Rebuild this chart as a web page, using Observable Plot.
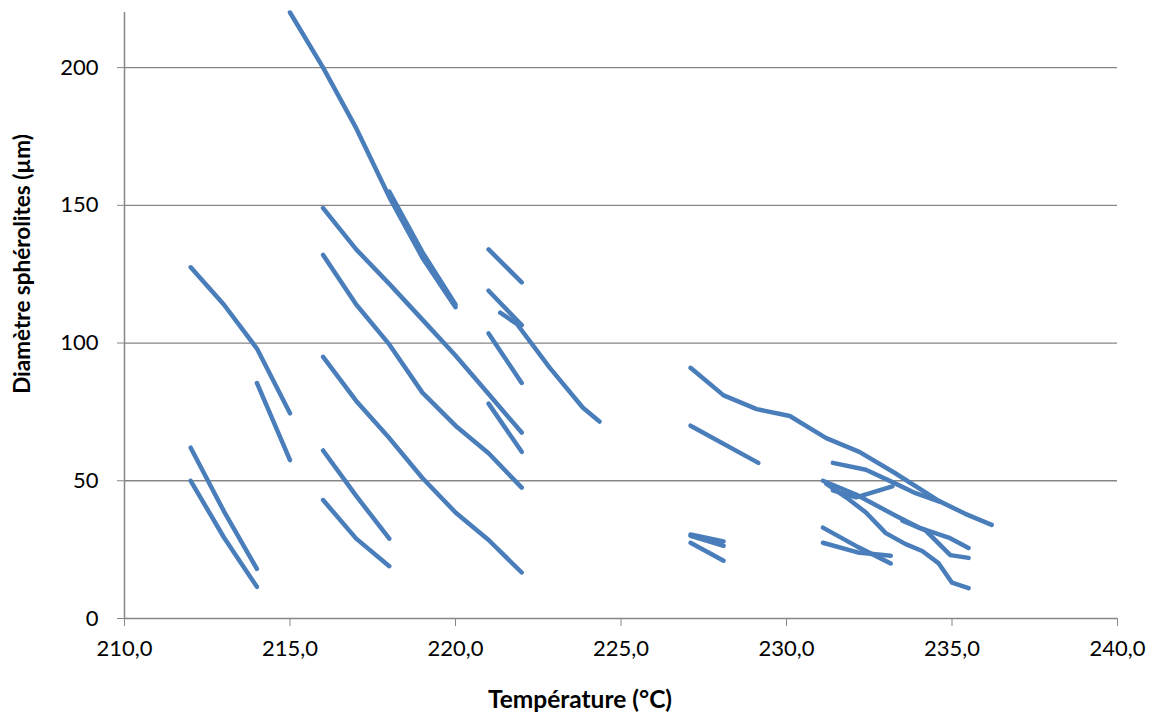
<!DOCTYPE html>
<html>
<head>
<meta charset="utf-8">
<script src="https://cdn.jsdelivr.net/npm/d3@7"></script>
<script src="https://cdn.jsdelivr.net/npm/@observablehq/plot@0.6"></script>
<style>
  html, body { margin: 0; padding: 0; background: #fff; }
  #chart { width: 1156px; height: 717px; }
  svg { font-family: Lato, "Open Sans", sans-serif; }
  svg g[aria-label="x-axis tick label"] text,
  svg g[aria-label="y-axis tick label"] text { font-size: 22px; fill: #000; }
  svg text.title { font-weight: bold; fill: #000; }
</style>
</head>
<body>
<div id="chart"></div>
<script>
// Each series: [température (°C), diamètre (µm)]
const s01 = [[215,220],[216,200],[217,178],[218,153],[219,131],[220,113]];
const s02 = [[218,155],[219,133],[220,114]];
const s03 = [[216,149],[217,134],[218,121.5],[219,108.5],[220,95.5],[221,81.5],[222,67.5]];
const s04 = [[216,132],[217,114],[218,99.5],[219,82],[220,70],[221,60],[222,47.5]];
const s05 = [[216,95],[217,79],[218,65.5],[219,51],[220,38.5],[221,28.5],[222,16.7]];
const s06 = [[216,61],[217,44.5],[218,29]];
const s07 = [[216,43],[217,29],[218,19]];
const s08 = [[212,127.5],[213,114],[214,98],[215,74.5]];
const s09 = [[214,85.5],[215,57.5]];
const s10 = [[212,62],[213,39],[214,18]];
const s11 = [[212,50],[213,29.5],[214,11.5]];
const s12 = [[221,134],[222,122]];
const s13 = [[221,119],[222,106.5]];
const s14 = [[221.35,111],[221.85,107],[222.85,91],[223.85,76.5],[224.35,71.5]];
const s15 = [[221,103.5],[222,85.5]];
const s16 = [[221,78],[222,60.5]];
const s17 = [[227.1,91],[228.1,81],[229.1,76],[230.1,73.5],[231.2,65.5],[232.2,60.5],[233.25,53],[234.6,42.7],[235.4,38],[236.2,34]];
const s18 = [[227.1,70],[229.15,56.5]];
const s19 = [[227.1,30.5],[228.1,28]];
const s20 = [[227.1,30],[228.1,26.4]];
const s21 = [[227.1,27.5],[228.1,21]];
const s22 = [[231.4,56.5],[232.4,54],[233.2,49.5],[233.9,45.5],[234.6,42.5]];
const s23 = [[231.1,50],[232.1,45],[233.3,37.3],[234.0,33],[234.9,29.4],[235.5,25.6]];
const s24 = [[233.5,35.5],[234.2,32],[234.95,23],[235.5,22]];
const s25 = [[231.4,46.5],[232.1,44],[233.2,48]];
const s26 = [[231.2,49],[231.8,44],[232.4,38.5],[233.0,31],[233.6,27],[234.1,24.5],[234.6,20],[235.0,13],[235.5,11]];
const s27 = [[231.1,33],[232.15,26],[233.15,20]];
const s28 = [[231.1,27.5],[232.15,24],[233.15,22.8]];

const xTicks = [210,215,220,225,230,235,240];
const yTicks = [0,50,100,150,200];
const gridTicks = [50,100,150,200];
const xTitle = "Température (°C)";
const yTitle = "Diamètre sphérolites (µm)";

const allSeries = [s01,s02,s03,s04,s05,s06,s07,s08,s09,s10,s11,s12,s13,s14,s15,s16,s17,s18,s19,s20,s21,s22,s23,s24,s25,s26,s27,s28];
const rows = allSeries.flatMap((s, i) => s.map(([t, d]) => ({t, d, s: i})));

const fmt = v => d3.format(".1f")(v).replace(".", ",");
const gray = "#868686";

const chart = Plot.plot({
  width: 1156,
  height: 717,
  marginLeft: 124,
  marginRight: 39,
  marginTop: 12,
  marginBottom: 99,
  x: {domain: [210, 240]},
  y: {domain: [0, 220]},
  style: {fontFamily: "Lato, 'Open Sans', sans-serif", color: "#000"},
  marks: [
    Plot.gridY(gridTicks, {stroke: gray, strokeOpacity: 1, strokeWidth: 1.3}),
    Plot.ruleX([210], {stroke: gray, strokeWidth: 1.5}),
    Plot.ruleY([0], {stroke: gray, strokeWidth: 1.5}),
    Plot.axisY(yTicks, {tickSize: 7, tickPadding: 19, stroke: gray, label: null, fill: "#000"}),
    Plot.axisX(xTicks, {tickSize: 8, tickPadding: 14, stroke: gray, label: null, tickFormat: fmt, fill: "#000"}),
    Plot.line(rows, {x: "t", y: "d", z: "s", stroke: "#4a7ebb", strokeWidth: 4.5, strokeLinecap: "round", strokeLinejoin: "round", curve: "linear"})
  ]
});

const svg = d3.select(chart);
svg.append("text")
  .attr("class", "title")
  .attr("x", 580).attr("y", 708)
  .attr("text-anchor", "middle")
  .style("font-size", "24.5px")
  .text(xTitle);
svg.append("text")
  .attr("class", "title")
  .attr("transform", "translate(30,264) rotate(-90)")
  .attr("text-anchor", "middle")
  .style("font-size", "22.5px")
  .text(yTitle);

document.getElementById("chart").appendChild(chart);
</script>
</body>
</html>
